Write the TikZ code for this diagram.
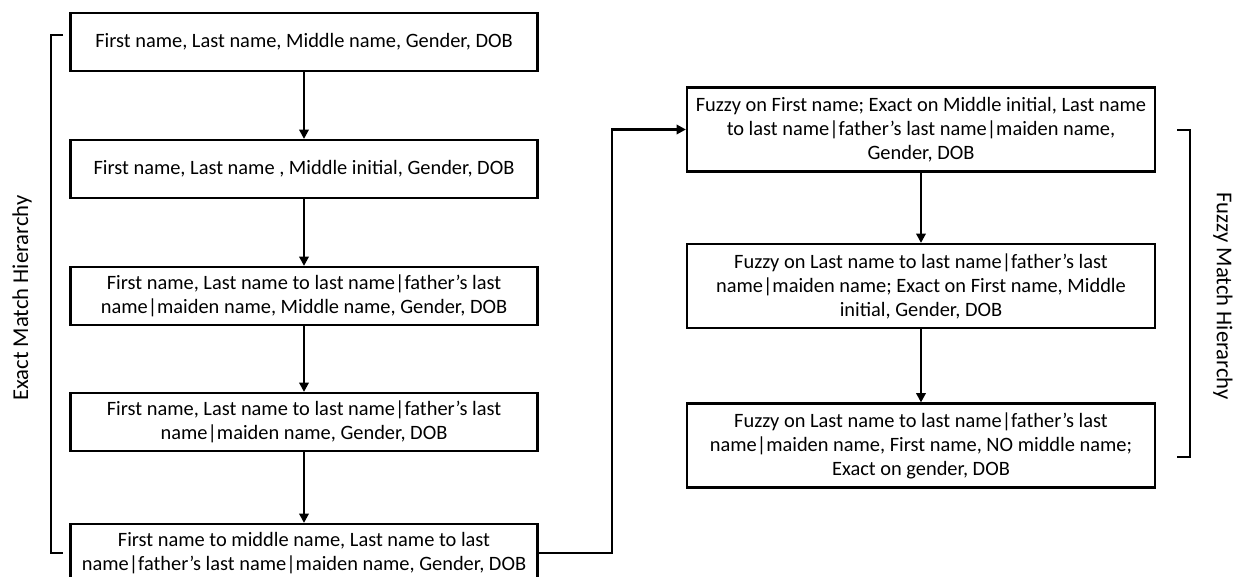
\documentclass[tikz,border=0pt]{standalone}
\usepackage{fontspec}
\setmainfont{Carlito}
\usetikzlibrary{arrows.meta}

\begin{document}
\begin{tikzpicture}[x=0.75pt,y=-0.75pt,>={Triangle[length=7pt,width=7pt]}]

% styles
\tikzset{
  box/.style={draw,line width=1.6pt,align=center,inner sep=2pt,
    font=\fontsize{15.3}{18}\selectfont},
  lbox/.style={box,minimum width=350.25pt,minimum height=43.5pt},
  rbox/.style={box,minimum width=351pt,minimum height=63pt},
  conn/.style={->,line width=1.9pt},
  brk/.style={line width=2pt},
  lbl/.style={font=\fontsize{17}{20}\selectfont}
}

% geometry
\def\xl{304}
\def\xr{921}

\useasboundingbox (0,0) rectangle (1236,577);

% exact match boxes
\node[lbox] (e1) at (\xl,42) {First name, Last name, Middle name, Gender, DOB};
\node[lbox] (e2) at (\xl,169) {First name, Last name , Middle initial, Gender, DOB};
\node[lbox] (e3) at (\xl,296) {First name, Last name to last name|father’s last\\name|maiden name, Middle name, Gender, DOB};
\node[lbox] (e4) at (\xl,422) {First name, Last name to last name|father’s last\\name|maiden name, Gender, DOB};
\node[lbox] (e5) at (\xl,553) {First name to middle name, Last name to last\\name|father’s last name|maiden name, Gender, DOB};

% fuzzy match boxes
\node[rbox] (f1) at (\xr,129.5) {Fuzzy on First name; Exact on Middle initial, Last name\\to last name|father’s last name|maiden name,\\Gender, DOB};
\node[rbox] (f2) at (\xr,286) {Fuzzy on Last name to last name|father’s last\\name|maiden name; Exact on First name, Middle\\initial, Gender, DOB};
\node[rbox] (f3) at (\xr,445.5) {Fuzzy on Last name to last name|father’s last\\name|maiden name, First name, NO middle name;\\Exact on gender, DOB};

% arrows
\foreach \a/\b in {e1/e2,e2/e3,e3/e4,e4/e5,f1/f2,f2/f3}
  \draw[conn] (\a) -- (\b);

% step over to the fuzzy side
\coordinate (turn) at (612,553);
\draw[conn] (e5.east) -- (turn) |- (f1.west);

% brackets
\draw[brk] (63,35) -- (51,35) -- (51,553) -- (63,553);
\draw[brk] (1177,130) -- (1190,130) -- (1190,457) -- (1177,457);

% bracket labels
\node[lbl,rotate=90] (exact) at (22,298) {Exact Match Hierarchy};
\node[lbl,rotate=-90] (fuzzy) at (1223,296) {Fuzzy Match Hierarchy};

\end{tikzpicture}
\end{document}
